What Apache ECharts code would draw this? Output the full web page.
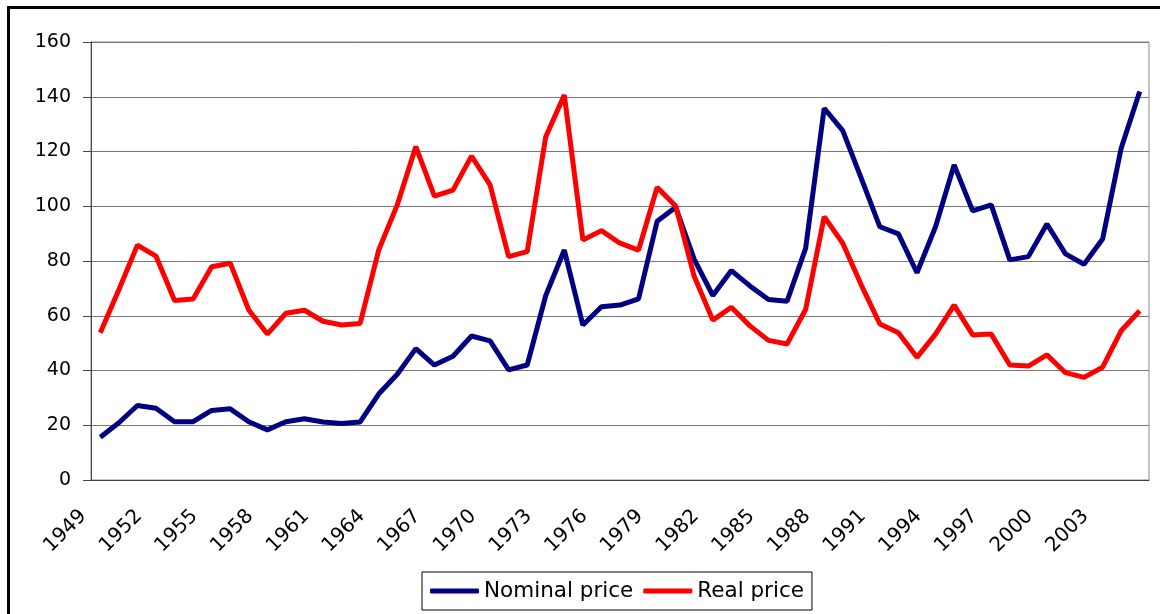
<!DOCTYPE html>
<html>
<head>
<meta charset="utf-8">
<script src="https://cdn.jsdelivr.net/npm/echarts@6/dist/echarts.min.js"></script>
<style>
  html, body { margin: 0; padding: 0; background: #fff; }
  #main { width: 1160px; height: 614px; }
</style>
</head>
<body>
<div id="main"></div>
<script>
// years on the category axis
let years = [
    '1949', '1950', '1951', '1952', '1953', '1954', '1955', '1956', '1957', '1958',
    '1959', '1960', '1961', '1962', '1963', '1964', '1965', '1966', '1967', '1968',
    '1969', '1970', '1971', '1972', '1973', '1974', '1975', '1976', '1977', '1978',
    '1979', '1980', '1981', '1982', '1983', '1984', '1985', '1986', '1987', '1988',
    '1989', '1990', '1991', '1992', '1993', '1994', '1995', '1996', '1997', '1998',
    '1999', '2000', '2001', '2002', '2003', '2004', '2005'
];

// values
let nominalPrice = [
    15.6, 20.9, 27.2, 26.2, 21.3, 21.3, 25.4, 26.0, 21.3, 18.3,
    21.3, 22.4, 21.2, 20.6, 21.2, 31.4, 38.6, 48.0, 42.0, 45.2,
    52.6, 50.8, 40.2, 42.0, 67.4, 84.0, 56.6, 63.3, 63.9, 66.2,
    94.5, 99.6, 80.6, 67.4, 76.5, 70.9, 65.9, 65.3, 84.6, 135.8,
    127.6, 110.2, 92.5, 89.9, 75.7, 92.5, 115.1, 98.3, 100.5, 80.4,
    81.6, 93.5, 82.6, 78.8, 88.0, 121.2, 141.9
];
let realPrice = [
    53.8, 69.5, 85.8, 81.8, 65.6, 66.1, 77.9, 79.2, 62.1, 53.3,
    60.9, 62.0, 58.0, 56.6, 57.2, 84.0, 100.5, 121.8, 103.7, 105.9,
    118.3, 107.8, 81.6, 83.4, 125.4, 140.6, 87.7, 91.1, 86.5, 84.0,
    106.9, 100.1, 74.3, 58.4, 63.1, 56.3, 51.0, 49.7, 62.3, 96.2,
    86.5, 71.2, 57.0, 53.8, 44.8, 53.3, 63.9, 53.0, 53.3, 42.0,
    41.6, 45.7, 39.2, 37.5, 41.2, 54.5, 61.8
];

let font = 'DejaVu Sans';

let options = {
    animation: false,
    backgroundColor: '#fff',
    graphic: [{
        // outer chart frame (runs off the right and bottom of the picture)
        type: 'rect',
        shape: { x: 8.5, y: 7.5, width: 1300, height: 800 },
        style: { fill: 'none', stroke: '#000', lineWidth: 3 },
        silent: true
    }],
    grid: {
        left: 91, right: 11, top: 42, bottom: 134,
        show: true, borderColor: '#888', borderWidth: 1
    },
    legend: {
        left: 422, top: 572,
        padding: [8, 8, 8, 8],
        borderColor: '#000', borderWidth: 1,
        icon: 'roundRect',
        itemWidth: 49, itemHeight: 5, itemGap: 10,
        textStyle: { fontFamily: font, fontSize: 21.5, color: '#000', lineHeight: 20 },
        data: ['Nominal price', 'Real price']
    },
    xAxis: {
        type: 'category',
        data: years,
        boundaryGap: true,
        axisLine: { lineStyle: { color: '#444', width: 1 } },
        axisTick: { interval: 0, length: 6, lineStyle: { color: '#444' } },
        axisLabel: {
            interval: (i) => i % 3 === 0,
            rotate: 45,
            margin: 16,
            padding: [0, 24, 0, 0],
            fontFamily: font, fontSize: 20, color: '#000'
        },
        splitLine: { show: false }
    },
    yAxis: {
        type: 'value',
        min: 0, max: 160, interval: 20,
        axisLine: { show: true, lineStyle: { color: '#444', width: 1 } },
        axisTick: { show: true, length: 8, lineStyle: { color: '#444' } },
        axisLabel: { margin: 20, fontFamily: font, fontSize: 19, color: '#000' },
        splitLine: { lineStyle: { color: '#777', width: 1 } }
    },
    series: [{
        name: 'Nominal price',
        type: 'line',
        data: nominalPrice,
        symbol: 'none',
        color: '#000080',
        lineStyle: { width: 5, color: '#000080' }
    }, {
        name: 'Real price',
        type: 'line',
        data: realPrice,
        symbol: 'none',
        color: '#ff0000',
        lineStyle: { width: 5, color: '#ff0000' }
    }]
};

let myChart = echarts.init(document.getElementById('main'));
myChart.setOption(options);
</script>
</body>
</html>
